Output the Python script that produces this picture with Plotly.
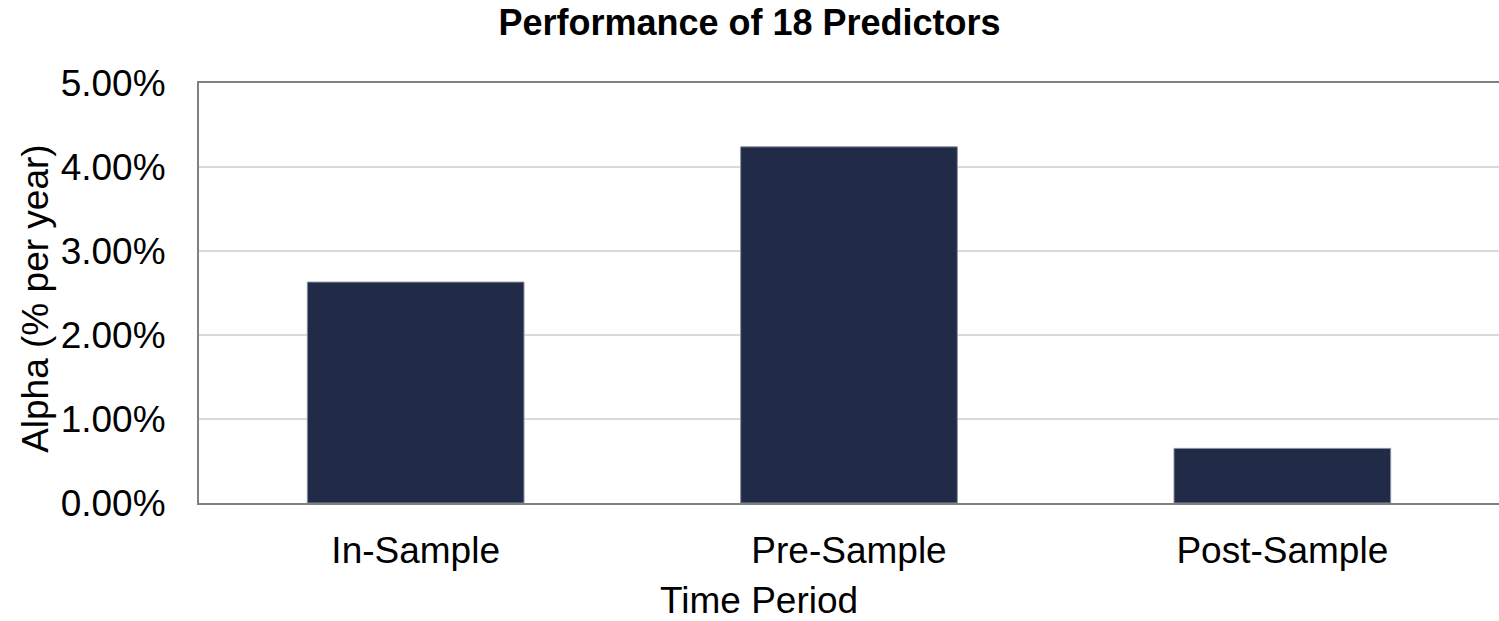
import plotly.graph_objects as go

# Average alpha by sample period
periods = ["In-Sample", "Pre-Sample", "Post-Sample"]
alpha = [0.0263, 0.0424, 0.0065]
y_ticks = [0.0, 0.01, 0.02, 0.03, 0.04, 0.05]
y_tick_labels = ["0.00%", "1.00%", "2.00%", "3.00%", "4.00%", "5.00%"]

FONT = "Liberation Sans, Arial, sans-serif"
AXIS_GREY = "#808080"
LABEL_SIZE = 37

fig = go.Figure(
    go.Bar(
        x=periods,
        y=alpha,
        marker=dict(color="#212a46", line=dict(color="#8a8fa0", width=1)),
        width=0.5,
        hoverinfo="x+y",
    )
)

fig.update_layout(
    width=1499,
    height=621,
    margin=dict(l=199, r=0, t=83, b=118),
    paper_bgcolor="white",
    plot_bgcolor="white",
    showlegend=False,
    font=dict(family=FONT, color="black", size=LABEL_SIZE),
    title=dict(
        text="<b>Performance of 18 Predictors</b>",
        font=dict(family=FONT, size=36, color="black"),
        x=0.5,
        xanchor="center",
        y=0.984,
        yanchor="top",
    ),
    annotations=[
        # axis titles, centred on the figure / plot as in the layout
        dict(
            text="Time Period",
            xref="paper", yref="paper",
            x=0.431, y=-0.233,
            xanchor="center", yanchor="middle",
            showarrow=False,
            font=dict(size=LABEL_SIZE),
        ),
        dict(
            text="Alpha (% per year)",
            xref="paper", yref="paper",
            x=-0.1254, y=0.486,
            xanchor="center", yanchor="middle",
            textangle=-90,
            showarrow=False,
            font=dict(size=LABEL_SIZE),
        ),
    ],
)

fig.update_xaxes(
    showline=True,
    linecolor=AXIS_GREY,
    linewidth=2,
    mirror=True,
    showgrid=False,
    ticks="",
    ticklabelstandoff=14,
    tickfont=dict(size=LABEL_SIZE),
)

fig.update_yaxes(
    range=[0, 0.05],
    tickvals=y_ticks,
    ticktext=y_tick_labels,
    showline=True,
    linecolor=AXIS_GREY,
    linewidth=2,
    showgrid=True,
    gridcolor="#d9d9d9",
    gridwidth=1.5,
    zeroline=False,
    ticks="",
    ticklabelstandoff=24,
    tickfont=dict(size=LABEL_SIZE),
)

fig.write_html("out.html")
